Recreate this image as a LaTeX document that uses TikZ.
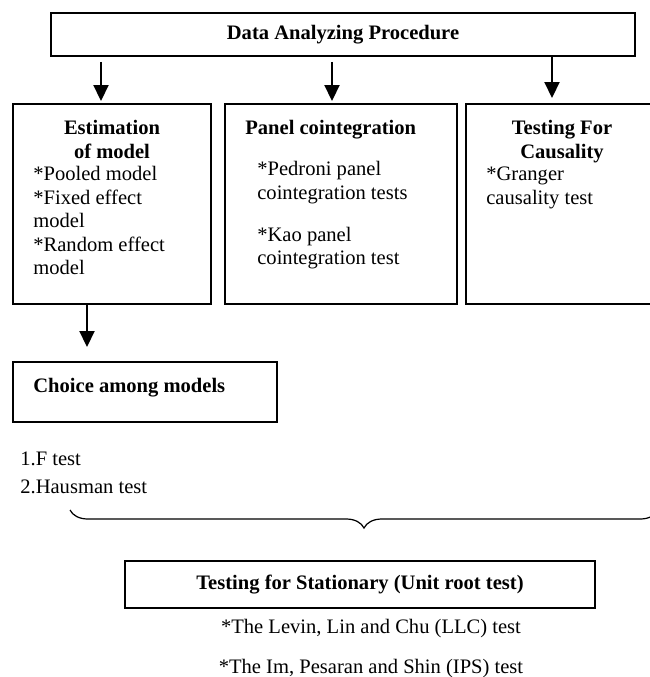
\documentclass[tikz,border=0pt]{standalone}
\usepackage{fontspec}
\setmainfont{Liberation Serif}
\usetikzlibrary{arrows.meta,decorations.pathreplacing}

\begin{document}
\begin{tikzpicture}[every node/.style={font=\fontsize{11.7}{13.4}\selectfont, inner sep=0pt}]
		
		% Define basic styles
		\tikzset{
			stage/.style={
				rectangle, draw=black, line width=1.1pt,
				minimum width=3.96cm, minimum height=4cm
			},
			heading/.style={
				font=\fontsize{11.7}{13.4}\selectfont\bfseries, align=center
			},
			items/.style={
				align=left, anchor=north west
			},
			arrow/.style={
				line width=1.1pt, -{Triangle[width=0.3cm,length=0.32cm]}
			},
			bracket/.style={
				line width=0.7pt, decorate, decoration={brace, mirror, amplitude=0.36cm}
			}
		}
		
		\useasboundingbox (0,0) rectangle (12.98,-13.54);
		
		% Nodes
		\node[stage, heading, minimum width=11.68cm, minimum height=0.86cm] (procedure) at (6.86,-0.69) {Data Analyzing Procedure};
		
		\node[stage] (estimation) at (2.24,-4.08) {};
		\node[heading, anchor=north] (estTitle) at (2.24,-2.40) {Estimation\\of model};
		\node[items] (estItems) at (0.66,-3.32) {*Pooled model\\*Fixed effect\\model\\*Random effect\\model};
		
		\node[stage, minimum width=4.64cm] (cointegration) at (6.82,-4.08) {};
		\node[heading, anchor=north west] (coTitle) at (4.90,-2.40) {Panel cointegration};
		\node[items] (coItems) at (5.14,-3.22) {*Pedroni panel\\cointegration tests\\[0.37cm]*Kao panel\\cointegration test};
		
		\node[stage, minimum width=3.84cm] (causality) at (11.24,-4.08) {};
		\node[heading, anchor=north] (caTitle) at (11.24,-2.40) {Testing For\\Causality};
		\node[items] (caItems) at (9.72,-3.34) {*Granger\\causality test};
		
		\node[stage, minimum width=5.28cm, minimum height=1.2cm] (choice) at (2.90,-7.84) {};
		\node[heading, anchor=west] (choiceTitle) at (0.66,-7.76) {Choice among models};
		\node[items] (choiceItems) at (0.40,-9.04) {1.F test\\[0.09cm]2.Hausman test};
		
		\coordinate (braceLeft) at (1.40,-10.20);
		\coordinate (braceRight) at (13.16,-10.20);
		
		\node[stage, heading, minimum width=9.4cm, minimum height=0.94cm] (stationary) at (7.20,-11.69) {Testing for Stationary (Unit root test)};
		\node[align=center, anchor=north] (stItems) at (7.42,-12.37) {*The Levin, Lin and Chu (LLC) test\\[0.33cm]*The Im, Pesaran and Shin (IPS) test};
		
		% Arrows
		\draw[arrow, shorten <=0.1cm, shorten >=0.04cm] ([xshift=-0.22cm]estimation.north |- procedure.south) -- ([xshift=-0.22cm]estimation.north);
		\draw[arrow, shorten <=0.1cm, shorten >=0.04cm] ([xshift=-0.18cm]cointegration.north |- procedure.south) -- ([xshift=-0.18cm]cointegration.north);
		\draw[arrow, shorten >=0.1cm] ([xshift=-0.2cm]causality.north |- procedure.south) -- ([xshift=-0.2cm]causality.north);
		\draw[arrow, shorten >=0.28cm] ([xshift=-0.5cm]estimation.south) -- ([xshift=-0.5cm]estimation.south |- choice.north);
		
		% Brace
		\draw[bracket] (braceLeft) -- (braceRight);
		
	\end{tikzpicture}
\end{document}
